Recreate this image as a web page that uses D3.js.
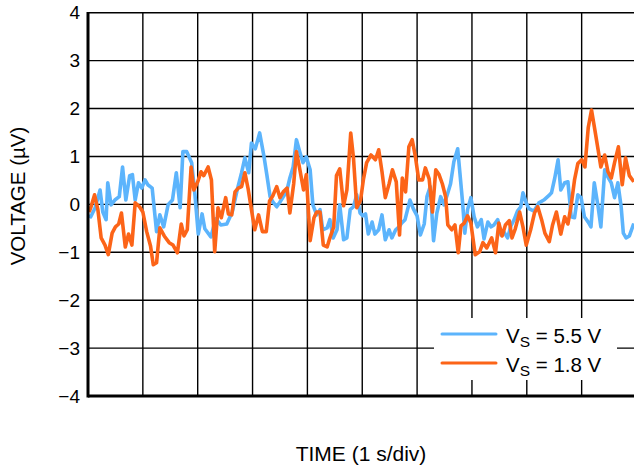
<!DOCTYPE html>
<html><head><meta charset="utf-8">
<script src="https://cdn.jsdelivr.net/npm/d3@7"></script>
<style>html,body{margin:0;padding:0;background:#fff;}svg{display:block;}</style>
</head><body>
<script>
// ---- data ----
const yTicks = [-4, -3, -2, -1, 0, 1, 2, 3, 4];
const xDivs = [0, 1, 2, 3, 4, 5, 6, 7, 8, 9, 10];
const seriesNames = ["5.5 V", "1.8 V"];
const blueT = [0.02,0.05,0.13,0.22,0.27,0.33,0.36,0.42,0.49,0.57,0.63,0.69,0.76,0.81,0.86,0.92,0.98,1.04,1.09,1.17,1.25,1.31,1.38,1.46,1.54,1.61,1.68,1.73,1.80,1.89,1.95,2.01,2.08,2.13,2.24,2.33,2.42,2.53,2.63,2.72,2.80,2.86,2.93,2.98,3.05,3.13,3.21,3.26,3.32,3.37,3.44,3.50,3.56,3.62,3.68,3.74,3.80,3.86,3.92,3.98,4.05,4.10,4.17,4.23,4.28,4.36,4.41,4.47,4.54,4.59,4.66,4.72,4.78,4.84,4.90,4.96,5.01,5.06,5.11,5.18,5.23,5.30,5.36,5.42,5.49,5.54,5.61,5.67,5.72,5.78,5.87,5.93,6.00,6.06,6.13,6.18,6.24,6.30,6.36,6.43,6.49,6.55,6.61,6.67,6.74,6.78,6.83,6.87,6.92,6.98,7.04,7.10,7.17,7.22,7.29,7.35,7.40,7.47,7.53,7.58,7.65,7.71,7.77,7.83,7.89,7.93,7.99,8.04,8.13,8.22,8.31,8.40,8.45,8.51,8.57,8.62,8.69,8.75,8.81,8.87,8.93,8.99,9.05,9.12,9.17,9.23,9.30,9.35,9.42,9.48,9.54,9.60,9.66,9.72,9.76,9.81,9.87,9.95];
const blueV = [-0.22,-0.26,-0.07,0.30,-0.16,-0.32,0.45,-0.01,0.09,0.16,0.78,0.09,0.60,0.62,0.09,0.45,0.34,0.51,0.41,0.34,-0.57,-0.22,-0.47,-0.01,0.09,0.66,-0.07,1.10,1.10,0.87,0.20,-0.62,-0.20,-0.51,-0.68,-0.30,-0.43,-0.41,-0.16,0.30,0.66,0.97,0.66,1.28,1.16,1.49,0.99,0.62,0.16,0.05,-0.05,0.05,0.16,0.26,0.55,0.78,1.35,1.10,0.87,0.99,0.72,-0.01,-0.22,-0.11,-0.53,-0.49,-0.32,-0.70,-0.53,-0.01,-0.74,-0.70,-0.11,-0.05,0.20,-0.18,-0.24,-0.20,-0.62,-0.37,-0.62,-0.53,-0.22,-0.74,-0.53,-0.70,-0.53,-0.47,-0.39,-0.32,0.09,-0.09,-0.24,-0.64,-0.41,0.16,0.37,-0.76,-0.18,0.16,-0.01,0.20,0.43,0.89,1.16,0.66,0.03,-0.60,-0.11,0.14,-0.26,-0.47,-0.32,-0.72,-0.37,-0.47,-0.43,-0.32,-0.64,-0.57,-0.70,-0.45,-0.32,-0.14,-0.05,0.24,0.03,-0.09,-0.14,0.03,0.09,0.18,0.24,0.55,0.93,0.30,0.45,0.47,-0.26,-0.28,0.20,0.14,-0.26,-0.37,-0.47,0.45,-0.05,-0.47,0.72,0.57,0.45,0.14,0.45,-0.05,-0.60,-0.70,-0.66,-0.40];
const orangeT = [0.02,0.05,0.12,0.18,0.24,0.31,0.37,0.44,0.50,0.56,0.61,0.68,0.74,0.80,0.86,0.94,1.00,1.07,1.14,1.19,1.25,1.31,1.39,1.48,1.55,1.63,1.70,1.75,1.81,1.88,1.93,2.00,2.06,2.11,2.19,2.25,2.31,2.37,2.43,2.51,2.56,2.62,2.68,2.74,2.80,2.86,2.92,2.98,3.04,3.11,3.18,3.25,3.31,3.37,3.44,3.50,3.56,3.63,3.68,3.75,3.80,3.86,3.93,3.98,4.05,4.12,4.17,4.23,4.29,4.36,4.41,4.48,4.53,4.59,4.66,4.72,4.79,4.84,4.90,4.97,5.02,5.08,5.16,5.24,5.30,5.36,5.42,5.49,5.55,5.62,5.68,5.73,5.79,5.85,5.91,5.97,6.03,6.10,6.15,6.22,6.28,6.34,6.40,6.46,6.52,6.56,6.63,6.69,6.75,6.80,6.86,6.92,6.98,7.06,7.14,7.20,7.27,7.36,7.43,7.49,7.55,7.61,7.68,7.73,7.79,7.87,7.93,7.99,8.07,8.14,8.20,8.27,8.33,8.41,8.47,8.54,8.62,8.69,8.75,8.81,8.87,8.93,9.00,9.06,9.12,9.18,9.24,9.30,9.35,9.42,9.48,9.54,9.60,9.67,9.74,9.80,9.87,9.95];
const orangeV = [-0.16,-0.07,0.20,-0.11,-0.70,-0.85,-1.05,-0.60,-0.47,-0.41,-0.18,-0.89,-0.62,-0.85,0.03,-0.05,-0.16,-0.57,-0.87,-1.26,-1.22,-0.49,-0.66,-0.80,-0.85,-1.01,-0.41,-0.66,-0.53,0.78,0.30,0.47,0.68,0.60,0.78,0.51,-0.99,-0.07,-0.28,0.14,-0.20,-0.22,0.26,0.34,0.37,0.66,0.32,-0.11,-0.53,-0.22,-0.57,-0.57,0.07,0.18,0.37,0.14,0.26,0.34,-0.18,0.43,1.10,0.74,0.30,0.62,-0.76,-0.28,-0.16,-0.16,-0.85,-0.89,-0.70,-0.47,0.60,0.74,-0.03,0.30,1.49,0.97,-0.07,0.09,0.51,0.87,1.03,0.93,1.14,0.68,0.14,0.43,0.72,0.47,-0.64,0.55,0.26,1.20,1.35,0.99,0.51,0.51,0.76,0.53,-0.16,0.72,0.62,0.43,0.16,-0.43,-0.53,-0.43,-1.01,-0.45,-0.39,-0.24,-0.39,-1.05,-0.99,-0.80,-0.91,-0.70,-1.01,-0.39,-0.66,-0.43,-0.34,-0.70,-0.51,-0.16,-0.47,-0.85,-0.53,-0.18,-0.05,-0.32,-0.60,-0.78,-0.43,-0.16,-0.62,-0.26,-0.41,-0.01,0.51,0.85,0.93,0.78,1.60,1.97,1.56,1.14,0.78,1.03,0.68,0.55,0.87,1.20,0.41,0.97,0.60,0.47];

// ---- layout ----
const W = 634, H = 466;
const plotLeft = 88, divW = 54.85, plotTop = 12.7, plotBottom = 396;
const blue = "#5cb4fc", orange = "#fc6418";
const font = "'Liberation Sans', Arial, Helvetica, sans-serif";

const svg = d3.select("body").append("svg").attr("width", W).attr("height", H)
  .style("font-family", font);

const x = d3.scaleLinear().domain([0, 10]).range([plotLeft, plotLeft + 10 * divW]);
const y = d3.scaleLinear().domain([-4, 4]).range([plotBottom, plotTop]);

// grid
const grid = svg.append("g").attr("stroke", "#000").attr("stroke-width", 1.4);
grid.selectAll("line.h").data(yTicks).join("line").attr("class", "h")
  .attr("x1", plotLeft).attr("x2", x(10)).attr("y1", d => y(d)).attr("y2", d => y(d));
grid.selectAll("line.v").data(xDivs).join("line").attr("class", "v")
  .attr("x1", d => x(d)).attr("x2", d => x(d)).attr("y1", plotTop).attr("y2", plotBottom);

// series
const line = d3.line().x(d => x(d[0])).y(d => y(d[1]));
const blueData = blueT.map((t, i) => [t, blueV[i]]);
const orangeData = orangeT.map((t, i) => [t, orangeV[i]]);
svg.append("path").datum(blueData).attr("d", line).attr("fill", "none")
  .attr("stroke", blue).attr("stroke-width", 3.6).attr("stroke-linejoin", "round");
svg.append("path").datum(orangeData).attr("d", line).attr("fill", "none")
  .attr("stroke", orange).attr("stroke-width", 3.6).attr("stroke-linejoin", "round");

// axes frame
svg.append("line").attr("x1", plotLeft).attr("x2", plotLeft).attr("y1", plotTop - 0.7).attr("y2", plotBottom + 1.5)
  .attr("stroke", "#000").attr("stroke-width", 3);
svg.append("line").attr("x1", plotLeft).attr("x2", W).attr("y1", plotBottom).attr("y2", plotBottom)
  .attr("stroke", "#000").attr("stroke-width", 3);

// y axis labels
const yAxis = d3.axisLeft(y).tickValues(yTicks).tickSize(0).tickPadding(8);
const ga = svg.append("g").attr("transform", `translate(${plotLeft},0)`).call(yAxis);
ga.select(".domain").remove();
ga.selectAll("text").attr("font-size", 19).attr("font-family", font).attr("fill", "#000");

// legend
const leg = svg.append("g");
leg.append("rect").attr("x", 434).attr("y", 318).attr("width", 183).attr("height", 62).attr("fill", "#fff");
[[blue, 334], [orange, 363]].forEach(([c, yy], i) => {
  leg.append("line").attr("x1", 442).attr("x2", 496).attr("y1", yy).attr("y2", yy)
    .attr("stroke", c).attr("stroke-width", 3).attr("stroke-linecap", "round");
  const t = leg.append("text").attr("x", 506).attr("y", yy + 9).attr("font-size", 20.5).attr("fill", "#000");
  t.append("tspan").text("V");
  t.append("tspan").attr("font-size", 15.5).attr("dy", 4).text("S");
  t.append("tspan").attr("dy", -4).text(" = " + seriesNames[i]);
});

// axis titles
svg.append("text").attr("transform", "translate(25,196) rotate(-90)")
  .attr("text-anchor", "middle").attr("font-size", 20.5).text("VOLTAGE (µV)");
svg.append("text").attr("x", 361).attr("y", 461).attr("text-anchor", "middle")
  .attr("font-size", 21).text("TIME (1 s/div)");
</script>
</body></html>
